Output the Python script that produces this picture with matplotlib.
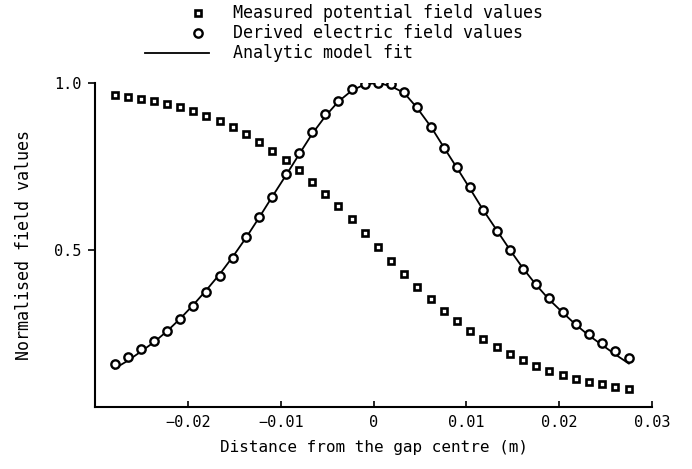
import matplotlib
matplotlib.use("Agg")
import matplotlib.pyplot as plt
from matplotlib.lines import Line2D

plt.rcParams["font.family"] = ["DejaVu Sans Mono"]

# positions along the gap axis (m)
distance = [-0.0279, -0.0265, -0.0251, -0.0236, -0.0222, -0.0208, -0.0194, -0.0180,
            -0.0165, -0.0151, -0.0137, -0.0123, -0.0109, -0.0094, -0.0080, -0.0066,
            -0.0052, -0.0038, -0.0023, -0.0009, 0.0005, 0.0019, 0.0033, 0.0047,
            0.0062, 0.0076, 0.0090, 0.0104, 0.0118, 0.0133, 0.0147, 0.0161,
            0.0175, 0.0189, 0.0204, 0.0218, 0.0232, 0.0246, 0.0260, 0.0275]

potential = [0.964, 0.958, 0.952, 0.945, 0.937, 0.927, 0.915, 0.901, 0.885, 0.867,
             0.847, 0.824, 0.797, 0.769, 0.740, 0.704, 0.668, 0.632, 0.592, 0.552,
             0.508, 0.468, 0.428, 0.388, 0.353, 0.318, 0.288, 0.258, 0.233, 0.209,
             0.189, 0.171, 0.154, 0.139, 0.126, 0.114, 0.106, 0.099, 0.091, 0.083]

efield = [0.160, 0.181, 0.203, 0.228, 0.257, 0.293, 0.332, 0.375, 0.422, 0.475,
          0.538, 0.600, 0.660, 0.728, 0.791, 0.854, 0.907, 0.947, 0.981, 0.997,
          1.000, 0.997, 0.974, 0.927, 0.869, 0.804, 0.748, 0.688, 0.620, 0.557,
          0.500, 0.443, 0.397, 0.355, 0.313, 0.278, 0.249, 0.221, 0.198, 0.176]

model_fit = [0.145, 0.168, 0.195, 0.225, 0.258, 0.295, 0.336, 0.380, 0.430, 0.482,
             0.538, 0.598, 0.660, 0.725, 0.787, 0.848, 0.900, 0.944, 0.978, 0.996,
             1.000, 0.990, 0.970, 0.925, 0.868, 0.806, 0.745, 0.683, 0.620, 0.558,
             0.500, 0.445, 0.396, 0.352, 0.312, 0.276, 0.244, 0.216, 0.188, 0.160]

x_ticks = [-0.02, -0.01, 0, 0.01, 0.02, 0.03]
x_labels = ["\u22120.02", "\u22120.01", "0", "0.01", "0.02", "0.03"]
y_ticks = [0.5, 1.0]
y_labels = ["0.5", "1.0"]

fig = plt.figure(figsize=(6.92, 4.69), dpi=100)
ax = fig.add_axes([0.1373, 0.1322, 0.805, 0.691])

sq_style = dict(marker="s", ms=5.0, mfc="white", mec="black", mew=1.9, ls="none")
ci_style = dict(marker="o", ms=6.0, mfc="white", mec="black", mew=1.7, ls="none")

ax.plot(distance, model_fit, color="black", lw=1.3)
ax.plot(distance, potential, **sq_style)
ax.plot(distance, efield, **ci_style)

ax.set_xlim(-0.03, 0.03)
ax.set_ylim(0.03, 1.0)
ax.set_xticks(x_ticks)
ax.set_xticklabels(x_labels)
ax.set_yticks(y_ticks)
ax.set_yticklabels(y_labels)
ax.spines["top"].set_visible(False)
ax.spines["right"].set_visible(False)
for s in ("left", "bottom"):
    ax.spines[s].set_linewidth(1.5)
ax.tick_params(axis="x", direction="in", length=4, width=1.2, labelsize=11, pad=6)
ax.tick_params(axis="y", direction="out", length=5, width=1.2, labelsize=11, pad=5)

ax.set_xlabel("Distance from the gap centre (m)", fontsize=11.5, labelpad=7)
ax.set_ylabel("Normalised field values", fontsize=12, labelpad=15)

# legend drawn above the axes, plotter style
rows = [0.972, 0.930, 0.887]
names = ["Measured potential field values", "Derived electric field values",
         "Analytic model fit"]
fig.add_artist(Line2D([0.286], [rows[0]], transform=fig.transFigure, **sq_style))
fig.add_artist(Line2D([0.286], [rows[1]], transform=fig.transFigure, **ci_style))
fig.add_artist(Line2D([0.210, 0.302], [rows[2], rows[2]], transform=fig.transFigure,
                      color="black", lw=1.3))
for y, name in zip(rows, names):
    fig.text(0.337, y, name, fontsize=12, va="center", ha="left")

fig.savefig("out.png", dpi=100)
